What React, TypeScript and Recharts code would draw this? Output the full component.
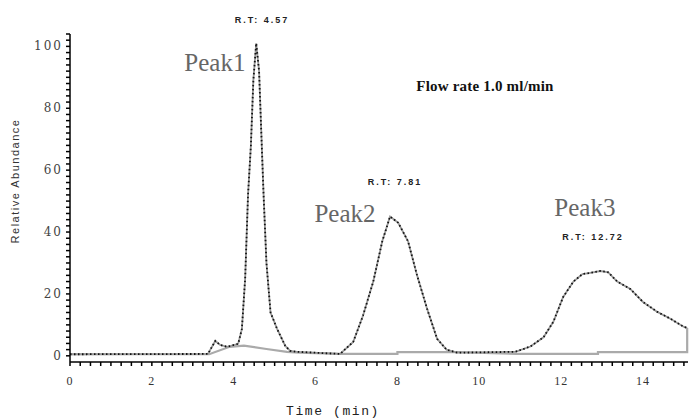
import { LineChart, Line, XAxis, YAxis, ReferenceDot } from 'recharts';

// chromatogram trace (time in min, relative abundance)
const signalTime = [
  0, 3.37, 3.55, 3.67, 3.84, 4.11, 4.2, 4.28, 4.35, 4.42, 4.48, 4.55, 4.62, 4.68, 4.73, 4.8, 4.9,
  5.06, 5.26, 5.38, 5.55, 6.6, 6.92, 7.16, 7.41, 7.63, 7.82, 8.02, 8.26, 8.48, 8.73, 8.97, 9.2,
  9.46, 10.88, 11.25, 11.57, 11.81, 12.05, 12.3, 12.52, 12.71, 12.96, 13.15, 13.37, 13.69, 14.0,
  14.35, 14.67, 14.99, 15.08,
];
const signalValue = [
  0.5, 0.6, 4.8, 3.5, 2.9, 3.9, 8.7, 25, 52, 68, 89, 101, 92, 70, 52, 30, 14,
  8.7, 3.2, 1.6, 1.3, 0.6, 4.5, 13, 24, 37, 45, 43, 37, 26, 15, 5.5, 2,
  1, 1.3, 3, 6, 11, 19, 24, 26.4, 26.8, 27.4, 27, 24, 21.6, 17.4,
  14.2, 12, 9.4, 9.0,
];

// integration baselines (grey)
const baseTime = [0, 3.4, 3.9, 4.25, 4.8, 5.3, 5.6, 6.6, 8.0, 8.0, 9.5, 10.9, 12.9, 12.9, 15.08, 15.08];
const baseValue = [0.5, 0.5, 2.9, 3.3, 2.2, 1.3, 1.0, 0.6, 0.6, 1.2, 1.2, 0.6, 0.6, 1.2, 1.2, 9.0];

const xMajor = [0, 2, 4, 6, 8, 10, 12, 14];
const yMajor = [0, 20, 40, 60, 80, 100];

const annotations = [
  { text: 'R.T: 4.57', t: 4.69, v: 108.5, kind: 'rt' },
  { text: 'Peak1', t: 3.54, v: 95, kind: 'peak' },
  { text: 'Flow rate 1.0 ml/min', t: 10.14, v: 87.2, kind: 'note' },
  { text: 'R.T: 7.81', t: 7.94, v: 56.2, kind: 'rt' },
  { text: 'Peak2', t: 6.72, v: 46.2, kind: 'peak' },
  { text: 'Peak3', t: 12.58, v: 48.1, kind: 'peak' },
  { text: 'R.T: 12.72', t: 12.78, v: 38.4, kind: 'rt' },
];

const labelStyles: Record<string, any> = {
  rt: { fontSize: 9, fontWeight: 'bold', fontFamily: 'Liberation Sans', letterSpacing: 2, fill: '#222' },
  peak: { fontSize: 25, fontFamily: 'Liberation Serif', fill: '#666' },
  note: { fontSize: 15, fontFamily: 'Liberation Serif', fontWeight: 'bold', letterSpacing: 0.2, fill: '#111' },
};

const signalData = signalTime.map((t, i) => ({ t, v: signalValue[i] }));
const baseData = baseTime.map((t, i) => ({ t, v: baseValue[i] }));

const xTicks: number[] = [];
for (let i = 0; i <= 60; i++) xTicks.push(i * 0.25);
const yTicks: number[] = [];
for (let i = 0; i <= 52; i++) yTicks.push(i * 2);

function XTick({ x, y, payload }: any) {
  if (!xMajor.includes(payload.value)) return <g />;
  return (
    <text
      x={x}
      y={y + 15}
      textAnchor="middle"
      dominantBaseline="central"
      fontFamily="Liberation Serif"
      fontSize={12}
      letterSpacing={1}
      fill="#333"
    >
      {payload.value}
    </text>
  );
}

function YTick({ x, y, payload }: any) {
  if (!yMajor.includes(payload.value)) return <g />;
  return (
    <text
      x={x - 3}
      y={y}
      textAnchor="end"
      dominantBaseline="central"
      fontFamily="DejaVu Serif"
      fontSize={12}
      letterSpacing={2}
      fill="#444"
    >
      {payload.value}
    </text>
  );
}

export default function App() {
  return (
    <div style={{ position: 'absolute', left: 0, top: 0, width: 689, height: 418, background: '#fff' }}>
      <LineChart width={689} height={418} margin={{ top: 34, right: 1, bottom: 0, left: 0 }}>
        <XAxis
          type="number"
          dataKey="t"
          domain={[0, 15.1]}
          ticks={xTicks}
          interval={0}
          height={56}
          tickSize={4}
          tickMargin={0}
          tickLine={{ stroke: '#000', strokeWidth: 1.5 }}
          axisLine={{ stroke: '#000', strokeWidth: 1.5 }}
          tick={<XTick />}
          label={{
            content: ({ viewBox }: any) => (
              <text
                x={viewBox.x + 263}
                y={viewBox.y + 49}
                textAnchor="middle"
                dominantBaseline="central"
                fontFamily="Liberation Mono"
                fontSize={13}
                letterSpacing={1.6}
                fill="#222"
              >
                Time (min)
              </text>
            ),
          }}
        />
        <YAxis
          type="number"
          domain={[-2, 104]}
          ticks={yTicks}
          interval={0}
          width={70}
          tickSize={4}
          tickMargin={0}
          tickLine={{ stroke: '#000', strokeWidth: 1.5 }}
          axisLine={{ stroke: '#000', strokeWidth: 1.5 }}
          tick={<YTick />}
          label={{
            content: ({ viewBox }: any) => {
              const cx = viewBox.x + 15;
              const cy = viewBox.y + viewBox.height / 2 - 17;
              return (
                <text
                  x={cx}
                  y={cy}
                  transform={`rotate(-90 ${cx} ${cy})`}
                  textAnchor="middle"
                  dominantBaseline="central"
                  fontFamily="Liberation Sans"
                  fontSize={11}
                  letterSpacing={1.5}
                  fill="#333"
                >
                  Relative Abundance
                </text>
              );
            },
          }}
        />
        <Line
          data={baseData}
          dataKey="v"
          type="linear"
          stroke="#aaa"
          strokeWidth={2.2}
          dot={false}
          isAnimationActive={false}
        />
        <Line
          data={signalData}
          dataKey="v"
          type="linear"
          stroke="#999"
          strokeWidth={1.8}
          dot={false}
          isAnimationActive={false}
        />
        <Line
          data={signalData}
          dataKey="v"
          type="linear"
          stroke="#111"
          strokeWidth={1.8}
          strokeDasharray="1.5 2.5"
          dot={false}
          isAnimationActive={false}
        />
        {annotations.map((a) => (
          <ReferenceDot
            key={a.text}
            x={a.t}
            y={a.v}
            r={0}
            fill="none"
            stroke="none"
            ifOverflow="visible"
            label={{ value: a.text, position: 'center', ...labelStyles[a.kind] }}
          />
        ))}
      </LineChart>
    </div>
  );
}
